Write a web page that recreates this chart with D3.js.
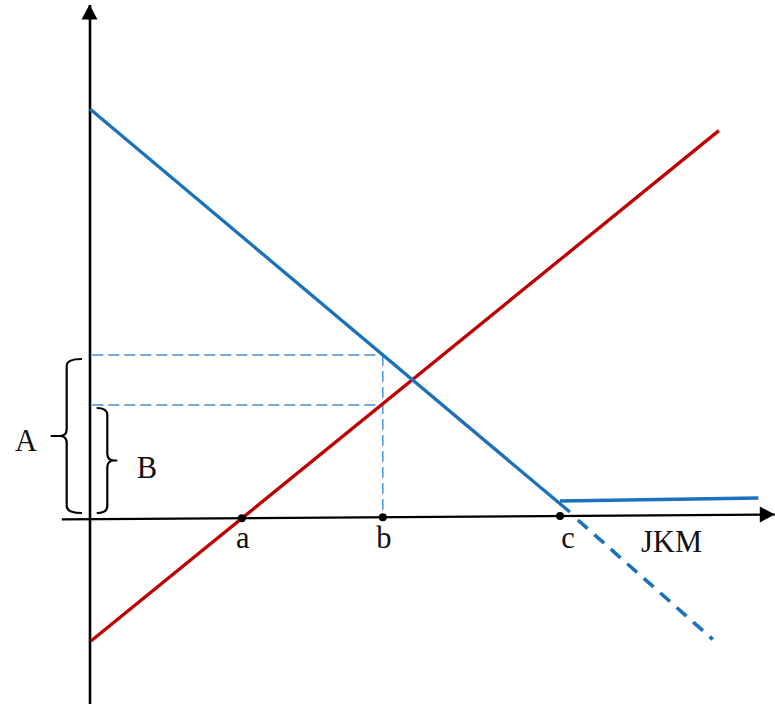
<!DOCTYPE html>
<html>
<head>
<meta charset="utf-8">
<script src="https://cdn.jsdelivr.net/npm/d3@7"></script>
<style>
  html, body { margin: 0; padding: 0; background: #fff; }
  svg { display: block; }
  text { font-family: "Liberation Serif", "Times New Roman", serif; font-size: 30.5px; fill: #111; }
</style>
</head>
<body>
<svg id="chart" width="775" height="704"></svg>
<script>
// line end points, in chart units (x: quantity, y: price)
var supplyLine = [[0.02, -3.1], [13.38, 9.66]];
var demandLine = [[0, 10.2], [10.21, 0.125]];
var demandFlat = [[10, 0.4], [14.22, 0.475]];
var demandDashed = [[10.38, -0.075], [13.25, -3.06]];
var xAxisEnds = [[-0.6, -0.06], [14.57, 0.0625]];
var yAxisEnds = [[0, -4.7], [0, 12.8]];

// marked quantities on the horizontal axis
var pointLabels = ['a', 'b', 'c'];
var pointValues = [3.23, 6.23, 10];

var priceA = 4.05;
var priceB = 2.8;
var quantityB = 6.23;

var svg = d3.select('#chart');

var x = d3.scaleLinear().domain([0, 14.5]).range([90, 90 + 14.5 * 47]);
var y = d3.scaleLinear().domain([0, 10]).range([517, 117]);

var line = d3.line()
  .x(function (d) { return x(d[0]); })
  .y(function (d) { return y(d[1]); });

// height of the (slightly tilted) horizontal axis at a given x
function axisY(v) {
  var t = (v - xAxisEnds[0][0]) / (xAxisEnds[1][0] - xAxisEnds[0][0]);
  return xAxisEnds[0][1] + t * (xAxisEnds[1][1] - xAxisEnds[0][1]);
}

// guide lines (thin dashes)
var guides = svg.append('g')
  .attr('fill', 'none')
  .attr('stroke', '#3f8fd2')
  .attr('stroke-width', 1.4)
  .attr('stroke-dasharray', '11,5');

guides.append('path').attr('d', line([[0.05, priceA], [quantityB, priceA]]));
guides.append('path').attr('d', line([[0.05, priceB], [quantityB, priceB]]));
guides.append('path').attr('d', line([[quantityB, priceA], [quantityB, axisY(quantityB)]]));

// axes
var axes = svg.append('g').attr('stroke', '#000').attr('fill', 'none');
axes.append('path').attr('d', line(xAxisEnds)).attr('stroke-width', 2.2);
axes.append('path').attr('d', line(yAxisEnds)).attr('stroke-width', 2.6);

// arrow heads
var yTip = [x(yAxisEnds[1][0]) - 0.5, y(yAxisEnds[1][1]) - 0.5];
svg.append('path')
  .attr('d', 'M' + yTip[0] + ',' + yTip[1] +
    'L' + (yTip[0] - 8) + ',' + (yTip[1] + 15) +
    'L' + (yTip[0] + 8) + ',' + (yTip[1] + 15) + 'Z')
  .attr('fill', '#000');

var xTip = [x(xAxisEnds[1][0]), y(xAxisEnds[1][1])];
svg.append('path')
  .attr('d', 'M' + xTip[0] + ',' + xTip[1] +
    'L' + (xTip[0] - 15) + ',' + (xTip[1] - 8) +
    'L' + (xTip[0] - 15) + ',' + (xTip[1] + 8) + 'Z')
  .attr('fill', '#000');

// supply and demand
svg.append('path')
  .attr('d', line(supplyLine))
  .attr('fill', 'none')
  .attr('stroke', '#c00000')
  .attr('stroke-width', 3.3);

var demand = svg.append('g')
  .attr('fill', 'none')
  .attr('stroke', '#1a72bb')
  .attr('stroke-width', 3.3);

demand.append('path').attr('d', line(demandLine));
demand.append('path').attr('d', line(demandFlat));
demand.append('path').attr('d', line(demandDashed))
  .attr('stroke-width', 3.6)
  .attr('stroke-dasharray', '13,9');

// points on the axis
var points = pointValues.map(function (v, i) {
  return { label: pointLabels[i], x: v, y: axisY(v) };
});

svg.selectAll('circle.pt')
  .data(points)
  .enter()
  .append('circle')
  .attr('class', 'pt')
  .attr('cx', function (d) { return x(d.x); })
  .attr('cy', function (d) { return y(d.y); })
  .attr('r', 4)
  .attr('fill', '#000');

svg.selectAll('text.pt')
  .data(points)
  .enter()
  .append('text')
  .attr('class', 'pt')
  .attr('x', function (d, i) { return x(d.x) + (i === 2 ? 8 : 1); })
  .attr('y', 548)
  .attr('text-anchor', 'middle')
  .text(function (d) { return d.label; });

svg.append('text')
  .attr('x', 641)
  .attr('y', 552)
  .text('JKM');

// braces
function bracePath(bx, y0, y1, arm, tip) {
  var ym = (y0 + y1) / 2, r = 7;
  var s = tip < 0 ? -1 : 1;
  return 'M' + (bx + arm) + ',' + y0 +
    'Q' + bx + ',' + y0 + ' ' + bx + ',' + (y0 + r) +
    'L' + bx + ',' + (ym - r) +
    'Q' + bx + ',' + ym + ' ' + (bx + s * r) + ',' + ym +
    'L' + (bx + tip) + ',' + ym +
    'M' + (bx + s * r) + ',' + ym +
    'Q' + bx + ',' + ym + ' ' + bx + ',' + (ym + r) +
    'L' + bx + ',' + (y1 - r) +
    'Q' + bx + ',' + y1 + ' ' + (bx + arm) + ',' + y1;
}

var braces = svg.append('g')
  .attr('fill', 'none')
  .attr('stroke', '#000')
  .attr('stroke-width', 2.2);

var braceA = bracePath(x(0) - 23.3, y(priceA) + 4, 513, 15.3, -16);
var braceB = bracePath(x(0) + 17.3, y(priceB) + 3, 513, -10.6, 10);
braces.append('path').attr('d', braceA);
braces.append('path').attr('d', braceB);

svg.append('text').attr('x', 26).attr('y', 451).attr('text-anchor', 'middle').text('A');
svg.append('text').attr('x', 147).attr('y', 478).attr('text-anchor', 'middle').text('B');
</script>
</body>
</html>
